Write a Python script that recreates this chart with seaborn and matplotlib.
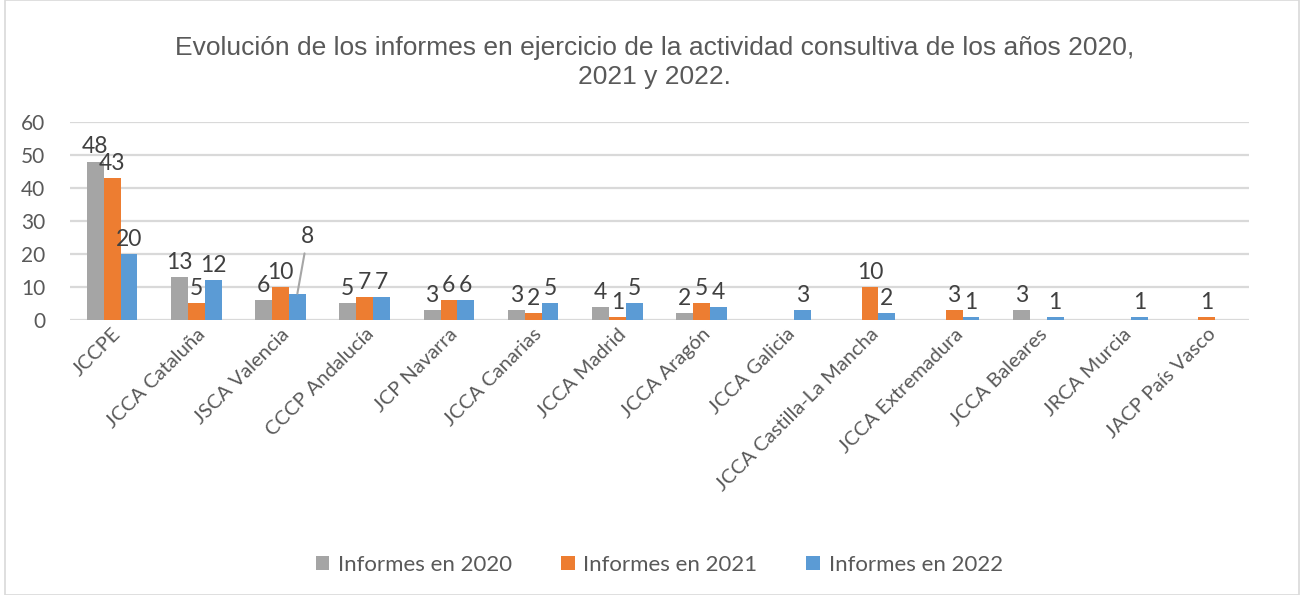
import numpy as np
import pandas as pd
import matplotlib
matplotlib.use("Agg")
import matplotlib.pyplot as plt
import seaborn as sns

# datos
organos = ["JCCPE", "JCCA Cataluña", "JSCA Valencia", "CCCP Andalucía", "JCP Navarra",
           "JCCA Canarias", "JCCA Madrid", "JCCA Aragón", "JCCA Galicia",
           "JCCA Castilla-La Mancha", "JCCA Extremadura", "JCCA Baleares",
           "JRCA Murcia", "JACP País Vasco"]
inf_2020 = [48, 13, 6, 5, 3, 3, 4, 2, np.nan, np.nan, np.nan, 3, np.nan, np.nan]
inf_2021 = [43, 5, 10, 7, 6, 2, 1, 5, np.nan, 10, 3, np.nan, np.nan, 1]
inf_2022 = [20, 12, 8, 7, 6, 5, 5, 4, 3, 2, 1, 1, 1, np.nan]
series = ["Informes en 2020", "Informes en 2021", "Informes en 2022"]
colores = ["#a5a5a5", "#ed7d31", "#5b9bd5"]

df = pd.DataFrame({
    "organo": organos * 3,
    "serie": np.repeat(series, len(organos)),
    "valor": inf_2020 + inf_2021 + inf_2022,
})

sns.set_style("white")
plt.rcParams['font.family'] = ['Lato', 'DejaVu Sans']
gris = "#595959"

fig = plt.figure(figsize=(13.04, 5.95), dpi=100)
ax = fig.add_axes([0.0537, 0.4622, 0.904, 0.3328])

sns.barplot(data=df.dropna(), x="organo", y="valor", hue="serie", order=organos,
            hue_order=series, palette=colores, width=0.6, saturation=1, ax=ax,
            zorder=3, linewidth=0)

ax.set_ylim(0, 60)
ax.set_xlim(-0.5, len(organos) - 0.5)
ax.set_yticks(range(0, 61, 10))
ax.yaxis.grid(True, color="#d9d9d9", linewidth=1.6, zorder=0)
ax.set_axisbelow(True)
sns.despine(ax=ax, left=True, top=True, right=True, bottom=True)
ax.set_xlabel("")
ax.set_ylabel("")
ax.tick_params(axis="y", labelsize=15, colors=gris, length=0, pad=18)
ax.tick_params(axis="x", labelsize=14.5, colors=gris, length=0, pad=4)
plt.setp(ax.get_xticklabels(), rotation=45, ha="right", rotation_mode="anchor")

# etiquetas de datos
for j, vals in enumerate([inf_2020, inf_2021, inf_2022]):
    for i, v in enumerate(vals):
        if np.isnan(v):
            continue
        x = i + (j - 1) * 0.2
        if organos[i] == "JSCA Valencia" and j == 2:
            ax.annotate("8", xy=(x, v), xytext=(x + 0.12, v + 14), ha="center",
                        va="bottom", fontsize=16.5, color="#404040",
                        arrowprops=dict(arrowstyle="-", color="#a6a6a6", lw=1.5,
                                        shrinkA=2, shrinkB=0))
            continue
        ax.annotate(str(int(v)), xy=(x, v), xytext=(0, 3), textcoords="offset points",
                    ha="center", va="bottom", fontsize=16.5, color="#404040")

ax.legend(loc="upper center", bbox_to_anchor=(0.5, -1.085), ncol=3, frameon=False,
          fontsize=16, labelcolor=gris, handlelength=0.6, handleheight=0.6,
          columnspacing=2.2, handletextpad=0.4)

fig.suptitle("Evolución de los informes en ejercicio de la actividad consultiva de los años 2020,\n2021 y 2022.",
             x=0.502, y=0.94, fontsize=19, color=gris, linespacing=1.3,
             family=['Liberation Sans', 'DejaVu Sans'])

fig.patches.append(plt.Rectangle((0.004, 0.0), 0.992, 1.0, transform=fig.transFigure,
                                 fill=False, edgecolor="#d9d9d9", linewidth=1.2))

fig.savefig("out.png", dpi=100)
